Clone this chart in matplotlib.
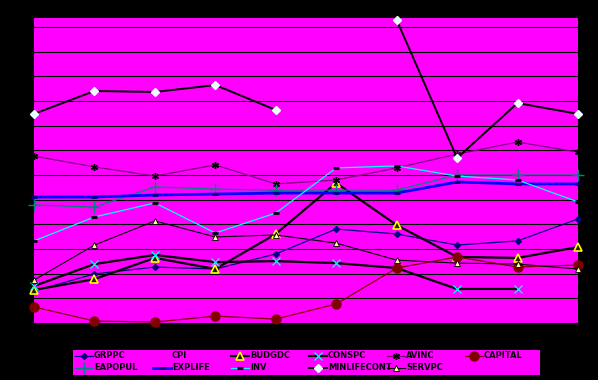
import matplotlib
matplotlib.use("Agg")
import matplotlib.pyplot as plt
import numpy as np
from matplotlib.lines import Line2D
from matplotlib.patches import Rectangle

nan = np.nan

# ten periods, no labels shown on the axis
periods = list(range(10))

grppc = [1.30, 1.99, 2.27, 2.19, 2.80, 3.81, 3.61, 3.16, 3.33, 4.22]
cpi = [nan] * 10  # drawn in background colour in the original, invisible
budgdc = [1.34, 1.78, 2.64, 2.19, 3.61, 5.68, 3.97, 2.68, 2.64, 3.08]
conspc = [1.50, 2.39, 2.76, 2.47, 2.51, 2.43, 2.23, 1.38, 1.38, nan]
avinc = [6.77, 6.33, 5.96, 6.41, 5.64, 5.80, 6.29, 6.85, 7.34, 6.93]
capital = [0.65, 0.08, 0.04, 0.28, 0.16, 0.77, 2.23, 2.68, 2.27, 2.35]
eapopul = [4.79, 4.70, 5.52, 5.43, 5.39, 5.39, 5.39, 6.00, 6.00, 6.00]
explife = [5.11, 5.11, 5.19, 5.23, 5.27, 5.27, 5.27, 5.72, 5.64, 5.64]
inv = [3.33, 4.30, 4.87, 3.65, 4.46, 6.29, 6.37, 5.96, 5.80, 4.91]
minlifecont = [8.48, 9.41, 9.37, 9.65, 8.64, nan, 12.29, 6.69, 8.92, 8.48]
servpc = [1.74, 3.16, 4.14, 3.49, 3.57, 3.24, 2.55, 2.43, 2.39, 2.19]

MAG = '#FF00FF'

# name -> (data, line style kwargs)
series = [
    ('GRPPC', grppc, dict(color='#000080', lw=0.9, marker='D', ms=3,
                          mfc='#000080', mec='#000080')),
    ('CPI', cpi, dict(color=MAG, lw=0.9)),
    ('BUDGDC', budgdc, dict(color='black', lw=1.6, marker='^', ms=5.5,
                            mfc='#202000', mec='#FFFF00', mew=1.2)),
    ('CONSPC', conspc, dict(color='black', lw=1.6, marker='x', ms=5.5,
                            mec='#00FFFF', mew=0.9)),
    ('AVINC', avinc, dict(color='#800080', lw=0.9, marker=(6, 2, 0), ms=5,
                          mec='black', mew=1.0)),
    ('CAPITAL', capital, dict(color='#800000', lw=0.9, marker='o', ms=6.5,
                              mfc='#800000', mec='#800000')),
    ('EAPOPUL', eapopul, dict(color='#008080', lw=0.9, marker='+', ms=8,
                              mec='#008080', mew=1.0)),
    ('EXPLIFE', explife, dict(color='#0000FF', lw=2.0, marker='_', ms=4,
                              mec='#000080', mew=2)),
    ('INV', inv, dict(color='#00FFFF', lw=0.9, marker='_', ms=4,
                      mec='black', mew=2)),
    ('MINLIFECONT', minlifecont, dict(color='black', lw=1.4, marker='D', ms=4,
                                      mfc='#E8FFFF', mec='#E8FFFF')),
    ('SERVPC', servpc, dict(color='black', lw=0.8, marker='^', ms=5,
                            mfc='#FFFF99', mec='black', mew=0.6)),
]

W, H = 598, 380
fig = plt.figure(figsize=(W / 100, H / 100), dpi=100, facecolor='black')
ax = fig.add_axes([34 / W, (H - 323) / H, (578 - 34) / W, (323 - 18) / H])
ax.set_facecolor(MAG)

for name, data, kw in series:
    ax.plot(periods, data, clip_on=False, **kw)

ax.set_xlim(0, 9)
ax.set_ylim(0, 12.37)
ax.set_yticks(range(13))
ax.set_xticks([])
ax.yaxis.grid(True, color='black', lw=0.8)
ax.set_axisbelow(True)
ax.tick_params(left=False, labelleft=False)
for sp in ax.spines.values():
    sp.set_visible(False)

# legend box, laid out row by row like the original
fig.patches.append(Rectangle((73 / W, (H - 375) / H), (540 - 73) / W, 25 / H,
                             transform=fig.transFigure, facecolor=MAG,
                             edgecolor='none'))
for i, (name, data, kw) in enumerate(series):
    row, col = divmod(i, 6)
    x0 = 75 + 78 * col
    y = H - (356 + 12 * row)
    hx = [x0 / W, (x0 + 18) / W]
    hy = [y / H, y / H]
    lkw = {k: v for k, v in kw.items() if k not in ('marker', 'ms')}
    fig.add_artist(Line2D(hx, hy, transform=fig.transFigure, **lkw))
    if 'marker' in kw:
        mkw = {k: v for k, v in kw.items() if k not in ('color', 'lw')}
        fig.add_artist(Line2D([(x0 + 9) / W], [y / H], transform=fig.transFigure,
                              linestyle='none', **mkw))
    fig.text((x0 + 19) / W, y / H, name, fontsize=6, fontweight='bold',
             color='black', va='center', ha='left')

fig.savefig('out.png', dpi=100, facecolor='black')
